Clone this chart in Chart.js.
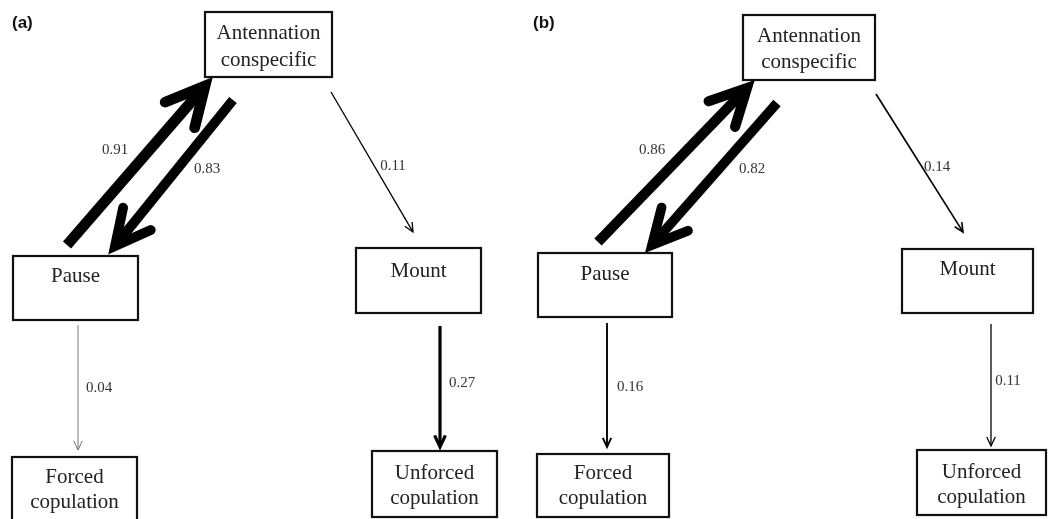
<!DOCTYPE html>
<html>
<head>
<meta charset="utf-8">
<script src="https://cdn.jsdelivr.net/npm/chart.js@4.4.1/dist/chart.umd.min.js"></script>
<style>
  html, body { margin: 0; padding: 0; background: #fff; }
  #wrap { width: 1061px; height: 519px; }
</style>
</head>
<body>
<div id="wrap"><canvas id="flowChart" width="1061" height="519"></canvas></div>
<script>
// Behaviour states and transition probabilities
const panelTitles = ['(a)', '(b)'];
const stateNames = ['Antennation\nconspecific', 'Pause', 'Mount', 'Forced\ncopulation', 'Unforced\ncopulation'];
const edgeFrom = [1, 0, 0, 1, 2];
const edgeTo = [0, 1, 2, 3, 4];
const probsA = [0.91, 0.83, 0.11, 0.04, 0.27];
const probsB = [0.86, 0.82, 0.14, 0.16, 0.11];

// Layout (data units == pixels here), one entry per panel
const layout = [
    {
        title: [12, 23],
        boxes: [
            { r: [205, 12, 332, 77], ty: [33, 60] },
            { r: [13, 256, 138, 320], ty: [276] },
            { r: [356, 248, 481, 313], ty: [271] },
            { r: [12, 457, 137, 530], ty: [477, 502] },
            { r: [372, 451, 497, 517], ty: [473, 498] }
        ],
        edges: [
            { a: [67, 245], b: [205, 86], lab: [115, 150] },
            { a: [233, 100], b: [115, 246], lab: [207, 169] },
            { a: [331, 92], b: [413, 232], lab: [393, 166] },
            { a: [78, 325], b: [78, 450], lab: [99, 388] },
            { a: [440, 326], b: [440, 447], lab: [462, 383] }
        ]
    },
    {
        title: [533, 23],
        boxes: [
            { r: [743, 15, 875, 80], ty: [36, 62] },
            { r: [538, 253, 672, 317], ty: [274] },
            { r: [902, 249, 1033, 313], ty: [269] },
            { r: [537, 454, 669, 517], ty: [473, 498] },
            { r: [917, 450, 1046, 515], ty: [472, 497] }
        ],
        edges: [
            { a: [598, 242], b: [747, 88], lab: [652, 150] },
            { a: [777, 103], b: [652, 245], lab: [752, 169] },
            { a: [876, 94], b: [963, 232], lab: [937, 167] },
            { a: [607, 323], b: [607, 447], lab: [630, 387] },
            { a: [991, 324], b: [991, 446], lab: [1008, 381] }
        ]
    }
];

const panelProbs = [probsA, probsB];

function drawArrow(ctx, x1, y1, x2, y2, w) {
    const ang = Math.atan2(y2 - y1, x2 - x1);
    const head = Math.max(10, w * 4);
    const spread = (w > 4 ? 27 : 25) * Math.PI / 180;
    ctx.save();
    ctx.strokeStyle = w < 1 ? '#666' : '#000';
    ctx.lineWidth = Math.max(w, 0.9);
    ctx.lineCap = 'butt';
    ctx.beginPath();
    ctx.moveTo(x1, y1);
    ctx.lineTo(x2 - Math.cos(ang) * w * 0.6, y2 - Math.sin(ang) * w * 0.6);
    ctx.stroke();
    ctx.lineJoin = 'miter';
    ctx.lineCap = w > 4 ? 'round' : 'butt';
    ctx.beginPath();
    ctx.moveTo(x2 - head * Math.cos(ang - spread), y2 - head * Math.sin(ang - spread));
    ctx.lineTo(x2, y2);
    ctx.lineTo(x2 - head * Math.cos(ang + spread), y2 - head * Math.sin(ang + spread));
    ctx.stroke();
    ctx.restore();
}

const diagramPlugin = {
    id: 'diagram',
    afterDraw(chart) {
        const ctx = chart.ctx;
        const xs = chart.scales.x, ys = chart.scales.y;
        const px = v => xs.getPixelForValue(v);
        const py = v => ys.getPixelForValue(v);

        layout.forEach((panel, pi) => {
            // panel letter
            ctx.save();
            ctx.fillStyle = '#111';
            ctx.font = 'bold 17px "Liberation Sans", Arial, sans-serif';
            ctx.textAlign = 'left';
            ctx.textBaseline = 'middle';
            ctx.fillText(panelTitles[pi], px(panel.title[0]), py(panel.title[1]));
            ctx.restore();

            // state boxes
            panel.boxes.forEach((bx, i) => {
                const [l, t, r, b] = bx.r;
                ctx.save();
                ctx.fillStyle = '#fff';
                ctx.strokeStyle = '#111';
                ctx.lineWidth = 2.2;
                ctx.fillRect(px(l), py(t), px(r) - px(l), py(b) - py(t));
                ctx.strokeRect(px(l), py(t), px(r) - px(l), py(b) - py(t));
                ctx.fillStyle = '#222';
                ctx.font = '21px "Liberation Serif", "Times New Roman", serif';
                ctx.textAlign = 'center';
                ctx.textBaseline = 'middle';
                const lines = stateNames[i].split('\n');
                lines.forEach((ln, k) => {
                    ctx.fillText(ln, px((l + r) / 2), py(bx.ty[k]));
                });
                ctx.restore();
            });

            // transitions
            const probs = panelProbs[pi];
            panel.edges.forEach((e, i) => {
                const p = probs[i];
                drawArrow(ctx, px(e.a[0]), py(e.a[1]), px(e.b[0]), py(e.b[1]), p * 11.8);
                ctx.save();
                ctx.fillStyle = '#333';
                ctx.font = '15px "Liberation Serif", "Times New Roman", serif';
                ctx.textAlign = 'center';
                ctx.textBaseline = 'middle';
                ctx.fillText(p.toFixed(2), px(e.lab[0]), py(e.lab[1]));
                ctx.restore();
            });
        });
    }
};

// label anchors as invisible points so the scales carry the layout
const anchorPoints = [];
layout.forEach(panel => panel.edges.forEach(e => anchorPoints.push({ x: e.lab[0], y: e.lab[1] })));

const ctx = document.getElementById('flowChart').getContext('2d');
const flowChart = new Chart(ctx, {
    type: 'scatter',
    data: {
        datasets: [{
            label: 'Transitions',
            data: anchorPoints,
            pointRadius: 0,
            showLine: false
        }]
    },
    options: {
        responsive: false,
        animation: false,
        devicePixelRatio: 1,
        layout: { padding: 0 },
        scales: {
            x: { type: 'linear', min: 0, max: 1061, display: false },
            y: { type: 'linear', min: 0, max: 519, reverse: true, display: false }
        },
        plugins: {
            legend: { display: false },
            tooltip: { enabled: false }
        }
    },
    plugins: [diagramPlugin]
});
</script>
</body>
</html>
